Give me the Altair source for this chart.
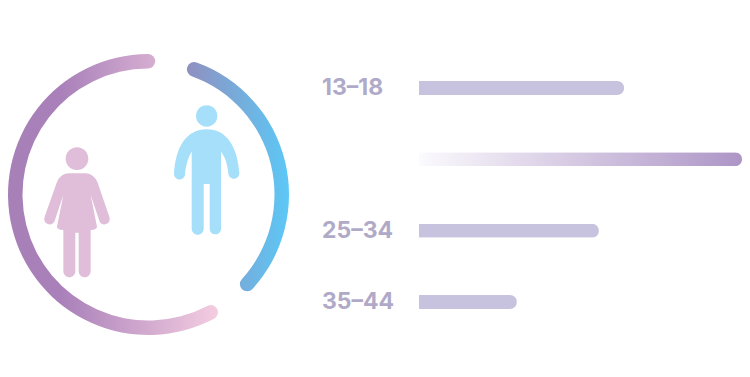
import math
import altair as alt
import pandas as pd

# Age bars (share relative to the longest bar)
age_groups = ["13–18", "18–24", "25–34", "35–44"]
age_values = [63.5, 100.0, 55.7, 30.3]
age_labels = ["13–18", "", "25–34", "35–44"]
highlighted = "18–24"

# Gender ring: arc start and end, in percent of the full turn
genders = ["female", "male"]
arc_start = [41.4, 4.7]
arc_end = [100.8, 37.6]

BAR = "#c7c3df"
LABEL = "#b0aac8"
FEMALE = "#e0bed9"
MALE = "#a6dffa"


def outline(cx, cy, cmds):
    out = []
    for c in cmds:
        op = c[0]
        if op in "ML":
            out.append(f"{op}{c[1]-cx},{c[2]-cy}")
        elif op == "Q":
            out.append(f"Q{c[1]-cx},{c[2]-cy},{c[3]-cx},{c[4]-cy}")
        elif op == "C":
            out.append(f"C{c[1]-cx},{c[2]-cy},{c[3]-cx},{c[4]-cy},{c[5]-cx},{c[6]-cy}")
        elif op == "A":
            out.append(f"A{c[1]},{c[1]},0,0,1,{c[2]-cx},{c[3]-cy}")
        elif op == "O":  # full circle
            r = c[3]
            out.append(f"M{c[1]-r-cx},{c[2]-cy}A{r},{r},0,1,1,{c[1]+r-cx},{c[2]-cy}A{r},{r},0,1,1,{c[1]-r-cx},{c[2]-cy}Z")
        elif op == "Z":
            out.append("Z")
    return "".join(out)


female_shape = outline(231, 517, [
    ("O", 231, 356, 34),
    ("M", 205, 400), ("L", 258, 400), ("Q", 282, 402, 293, 428), ("L", 328, 530),
    ("Q", 333, 548, 316, 553), ("Q", 303, 555, 298, 542), ("L", 272, 465),
    ("L", 291, 560), ("Q", 292, 568, 272, 570), ("L", 272, 694), ("A", 18, 236, 694),
    ("L", 236, 578), ("L", 226, 578), ("L", 226, 694), ("A", 18, 190, 694),
    ("L", 190, 570), ("Q", 170, 568, 171, 560), ("L", 190, 465), ("L", 164, 542),
    ("Q", 159, 555, 146, 553), ("Q", 129, 548, 134, 530), ("L", 170, 428),
    ("Q", 180, 402, 205, 400), ("Z",),
])
male_shape = outline(620, 390, [
    ("O", 620, 228, 32),
    ("M", 620, 268), ("C", 680, 268, 712, 320, 718, 400), ("A", 16.5, 685, 400),
    ("C", 683, 375, 675, 350, 663, 335), ("L", 663, 566), ("A", 17, 629, 566),
    ("L", 629, 432), ("L", 611, 432), ("L", 611, 566), ("A", 18, 575, 566),
    ("L", 575, 335), ("C", 565, 350, 557, 375, 555, 402), ("A", 16.5, 522, 402),
    ("C", 526, 320, 560, 268, 620, 268), ("Z",),
])


def grad(*stops):
    return alt.Gradient(
        gradient="linear", x1=0, x2=1, y1=0, y2=0,
        stops=[alt.GradientStop(color=c, offset=o) for o, c in stops],
    )


bars = pd.DataFrame({"age": age_groups, "value": age_values, "label": age_labels})
arcs = pd.DataFrame({"gender": genders, "start": arc_start, "end": arc_end})

x_enc = alt.X("value:Q", scale=alt.Scale(domain=[0, 100], range=[411, 734]), axis=None)
y_enc = alt.Y("age:N", sort=age_groups, axis=None,
              scale=alt.Scale(type="point", padding=0, domain=age_groups, range=[80, 294]))

plain = (
    alt.Chart(bars).transform_filter(alt.datum.age != highlighted)
    .mark_bar(size=14, color=BAR, cornerRadiusEnd=7)
    .encode(x=x_enc, y=y_enc)
)
hero = (
    alt.Chart(bars).transform_filter(alt.datum.age == highlighted)
    .mark_bar(size=14, cornerRadiusEnd=7,
              color=grad((0, "#fbfafd"), (1, "#ad95c6")))
    .encode(x=x_enc, y=y_enc)
)
labels = (
    alt.Chart(bars).transform_filter(alt.datum.label != "")
    .mark_text(align="left", baseline="middle", dx=-97, dy=0,
               font="Inter", fontWeight=700, fontSize=23, color=LABEL)
    .encode(x=alt.datum(0), y=y_enc, text="label:N")
)

theta = alt.Theta("start:Q", scale=alt.Scale(domain=[0, 100], range=[0, 2 * math.pi]))
theta2 = alt.Theta2("end:Q")


def ring(gender, gradient):
    return (
        alt.Chart(arcs).transform_filter(alt.datum.gender == gender)
        .mark_arc(innerRadius=126, outerRadius=140.5, cornerRadius=7.25, color=gradient)
        .encode(theta=theta, theta2=theta2, x=alt.value(140.5), y=alt.value(186.5))
    )


ring_f = ring("female", grad((0, "#a880b8"), (0.25, "#a980b9"), (1, "#f4cde1")))
ring_m = ring("male", grad((0, "#9090c0"), (1, "#5cc8f6")))


def person(gender, shape, colour, px, py):
    return (
        alt.Chart(arcs).transform_filter(alt.datum.gender == gender)
        .mark_point(shape=shape, filled=True, size=4 / 9, opacity=1, color=colour, strokeWidth=0)
        .encode(x=alt.value(px), y=alt.value(py))
    )


fig_f = person("female", female_shape, FEMALE, 69, 204.3)
fig_m = person("male", male_shape, MALE, 198.7, 162)

chart = (
    alt.layer(plain, hero, labels, ring_f, ring_m, fig_f, fig_m)
    .properties(width=734, height=360, padding=0, autosize=alt.AutoSizeParams(type="none"))
    .configure_view(stroke=None)
)
chart.save("out.html", embed_options={"renderer": "svg", "actions": False})
